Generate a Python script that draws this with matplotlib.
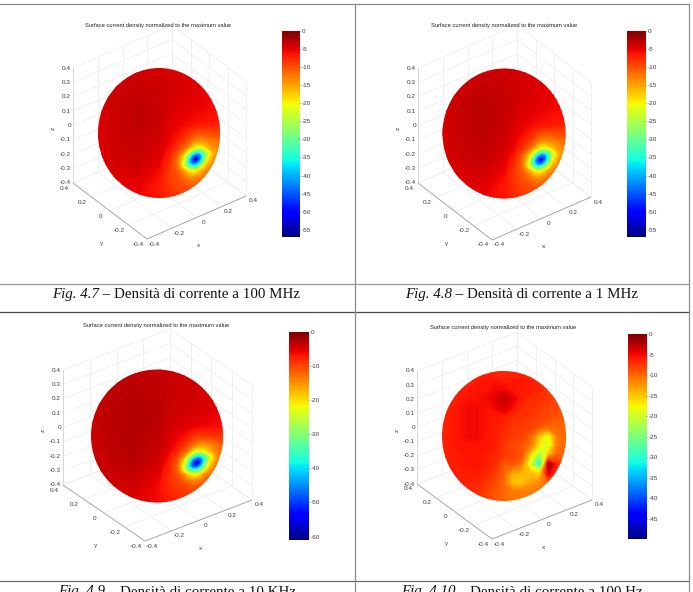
"""Four surface-current sphere plots in a captioned table (pixel-placed layout)."""
import numpy as np
import matplotlib
matplotlib.use("Agg")
import matplotlib.pyplot as plt
from matplotlib.cm import ScalarMappable
from matplotlib.colors import Normalize
from matplotlib.patches import Ellipse

W, H = 693, 592
plt.rcParams["axes.unicode_minus"] = False
plt.rcParams["font.family"] = ["Liberation Sans", "DejaVu Sans"]

TITLE = "Surface current density normalized to the maximum value"
Z_TICKS = [-0.4, -0.3, -0.2, -0.1, 0, 0.1, 0.2, 0.3, 0.4]
XY_TICKS = [-0.4, -0.2, 0, 0.2, 0.4]

CAPTIONS = [("Fig. 4.7", " – Densità di corrente a 100 MHz"),
            ("Fig. 4.8", " – Densità di corrente a 1 MHz"),
            ("Fig. 4.9", " – Densità di corrente a 10 KHz"),
            ("Fig. 4.10", " – Densità di corrente a 100 Hz")]

CBAR_MIN = [-57, -57, -61, -49.9]
CBAR_TICKS = [[0, -5, -10, -15, -20, -25, -30, -35, -40, -45, -50, -55],
              [0, -5, -10, -15, -20, -25, -30, -35, -40, -45, -50, -55],
              [0, -10, -20, -30, -40, -50, -60],
              [0, -5, -10, -15, -20, -25, -30, -35, -40, -45]]

# sample positions on the projected disc (-1..1), closer together round the cold spot
U_SPOT = [-1.05, -0.7, -0.35, 0, 0.17, 0.30, 0.40, 0.47, 0.535, 0.6, 0.665, 0.73, 0.80, 0.90, 1.05]
V_SPOT = [-1.05, -0.7, -0.4, -0.15, 0, 0.12, 0.22, 0.28, 0.34, 0.4, 0.46, 0.52, 0.58, 0.68, 0.8, 1.05]
U_EVEN = [-1.05, -0.857, -0.714, -0.571, -0.429, -0.286, -0.143, 0, 0.143, 0.286, 0.429, 0.571, 0.714, 0.857, 1.05]
V_EVEN = [-1.05, -0.857, -0.714, -0.571, -0.429, -0.286, -0.143, 0, 0.143, 0.286, 0.429, 0.571, 0.714, 0.857, 1.05]

# dB values (rows top to bottom)
FIELD_100MHZ = [
    [-5, -4.5, -4.2, -4.2, -4.5, -4.5, -4.8, -4.8, -4.8, -5, -5, -5, -5.5, -5.5, -6],
    [-4.8, -4, -3.6, -3.8, -4.2, -4.5, -4.6, -4.7, -4.8, -4.9, -5, -5, -5.2, -5.4, -5.7],
    [-4.8, -3.7, -3.2, -3.6, -4.3, -4.8, -4.9, -5, -5.1, -5.2, -5.3, -5.4, -5.6, -5.8, -6.2],
    [-4.8, -3.7, -3.2, -3.8, -4.8, -5.3, -5.6, -5.8, -6, -6.2, -6.3, -6.4, -6.6, -6.8, -7.5],
    [-4.8, -3.8, -3.3, -4, -5.2, -6, -7, -8, -9, -10, -10, -10, -10, -9.5, -9.5],
    [-4.9, -3.9, -3.4, -4.2, -5.5, -7, -9, -10.5, -12, -14, -14, -14, -13.5, -12.5, -11.5],
    [-4.9, -3.9, -3.5, -4.4, -6, -8.5, -11, -14, -18, -21, -21, -20, -17, -14, -12],
    [-5, -4, -3.5, -4.6, -6.5, -10, -14, -20, -27, -32, -33, -29, -22, -15, -12],
    [-5, -4, -3.6, -4.8, -7, -11, -18, -27, -38, -46, -44, -34, -24, -15.5, -12],
    [-5, -4.1, -3.7, -5, -7.5, -12, -20, -32, -46, -55, -46, -32, -20, -14, -11],
    [-5, -4.2, -3.9, -5.2, -8, -12.5, -22, -34, -44, -46, -38, -27, -18, -13, -10.5],
    [-5.2, -4.4, -4.1, -5.4, -8.5, -12, -21, -29, -33, -32, -27, -20, -15, -12, -10],
    [-5.4, -4.6, -4.3, -5.7, -8.8, -11, -15, -19, -21, -21, -18, -15, -13, -11, -9.5],
    [-5.6, -4.8, -4.6, -6.2, -8.8, -10, -12, -13.5, -14, -14, -13, -12, -11, -10, -9],
    [-5.8, -5.2, -5, -6.8, -8.5, -9.5, -10, -10.5, -10.5, -10.5, -10, -10, -9.5, -9, -8.5],
    [-6, -5.5, -5.5, -6.5, -7.5, -8, -8, -8, -8, -8, -8, -8, -8, -8, -8],
]
FIELD_1MHZ = [
    [-4.8, -4.3, -4, -4, -4.3, -4.4, -4.6, -4.8, -4.8, -5, -5, -5, -5.5, -5.5, -6],
    [-4.6, -3.8, -3.4, -3.6, -4, -4.3, -4.5, -4.6, -4.7, -4.8, -5, -5, -5.2, -5.4, -5.7],
    [-4.6, -3.5, -3, -3.4, -4.1, -4.6, -4.8, -4.9, -5, -5.2, -5.3, -5.4, -5.6, -5.8, -6.2],
    [-4.6, -3.5, -3, -3.6, -4.6, -5.1, -5.4, -5.7, -6, -6.2, -6.3, -6.4, -6.6, -6.8, -7.5],
    [-4.6, -3.6, -3.1, -3.8, -5, -5.8, -6.8, -7.8, -9, -10, -10, -10, -10, -9.5, -9.5],
    [-4.7, -3.7, -3.2, -4, -5.3, -6.8, -8.8, -10.5, -12, -14, -14, -14, -13.5, -12.5, -11.5],
    [-4.7, -3.7, -3.3, -4.2, -5.8, -8.3, -11, -14, -18, -21, -21, -20, -17, -14, -12],
    [-4.8, -3.8, -3.3, -4.4, -6.3, -10, -14, -20, -27, -32, -33, -29, -22, -15, -12],
    [-4.8, -3.8, -3.4, -4.6, -6.8, -11, -18, -27, -38, -46, -44, -34, -24, -15.5, -12],
    [-4.8, -3.9, -3.5, -4.8, -7.3, -12, -20, -32, -46, -55, -46, -32, -20, -14, -11],
    [-4.9, -4, -3.7, -5, -7.8, -12.5, -22, -34, -44, -46, -38, -27, -18, -13, -10.5],
    [-5, -4.2, -3.9, -5.2, -8.3, -12, -21, -29, -33, -32, -27, -20, -15, -12, -10],
    [-5.2, -4.4, -4.1, -5.5, -8.6, -11, -15, -19, -21, -21, -18, -15, -13, -11, -9.5],
    [-5.4, -4.6, -4.4, -6, -8.6, -10, -12, -13.5, -14, -14, -13, -12, -11, -10, -9],
    [-5.6, -5, -4.8, -6.6, -8.3, -9.5, -10, -10.5, -10.5, -10.5, -10, -10, -9.5, -9, -8.5],
    [-6, -5.3, -5.3, -6.3, -7.5, -8, -8, -8, -8, -8, -8, -8, -8, -8, -8],
]
FIELD_10KHZ = [
    [-4.5, -4, -3.8, -3.8, -4, -4.2, -4.4, -4.4, -4.5, -4.6, -4.6, -4.6, -5, -5, -5.5],
    [-4.3, -3.5, -3.1, -3.3, -3.7, -4, -4.1, -4.2, -4.3, -4.4, -4.5, -4.5, -4.7, -4.9, -5.2],
    [-4.3, -3.2, -2.8, -3.1, -3.8, -4.3, -4.4, -4.5, -4.6, -4.7, -4.8, -4.9, -5.1, -5.3, -5.7],
    [-4.3, -3.2, -2.8, -3.3, -4.3, -4.8, -5.1, -5.3, -5.5, -5.7, -5.8, -5.9, -6.1, -6.3, -7],
    [-4.3, -3.3, -2.9, -3.5, -4.7, -5.5, -6.5, -7.5, -8.5, -9.5, -9.5, -9.5, -9.5, -9, -9],
    [-4.4, -3.4, -3, -3.7, -5, -6.5, -8.5, -10, -12, -14, -14.5, -14.5, -14, -12.5, -11],
    [-4.4, -3.4, -3, -3.9, -5.5, -8, -11, -14, -19, -22, -22, -21, -18, -14, -11.5],
    [-4.5, -3.5, -3, -4.1, -6, -9.5, -14, -21, -29, -34, -35, -31, -23, -15, -11.5],
    [-4.5, -3.5, -3.1, -4.3, -6.5, -10.5, -18, -29, -41, -50, -48, -37, -25, -16, -11.5],
    [-4.5, -3.6, -3.2, -4.5, -7, -11.5, -21, -34, -50, -60, -50, -34, -21, -14, -10.5],
    [-4.5, -3.7, -3.4, -4.7, -7.5, -12, -23, -37, -48, -50, -41, -29, -19, -13, -10],
    [-4.7, -3.9, -3.6, -4.9, -8, -11.5, -22, -31, -35, -34, -29, -21, -15.5, -12, -9.5],
    [-4.9, -4.1, -3.8, -5.2, -8.3, -10.5, -15, -20, -22, -22, -19, -15, -13, -10.5, -9],
    [-5.1, -4.3, -4.1, -5.7, -8.3, -9.5, -11.5, -13, -14, -14, -13, -11.5, -10.5, -9.5, -8.5],
    [-5.3, -4.7, -4.5, -6.3, -8, -9, -9.5, -10, -10, -10, -9.5, -9.5, -9, -8.5, -8],
    [-5.5, -5, -5, -6, -7, -7.5, -7.5, -7.5, -7.5, -7.5, -7.5, -7.5, -7.5, -7.5, -7.5],
]
FIELD_100HZ = [
    [-7, -7, -7, -7, -7, -7, -7, -7, -7, -7, -7, -7, -7, -7, -7],
    [-6.5, -6.5, -6.5, -6.5, -6, -5.5, -5.5, -6, -6, -5.5, -6, -6.5, -7, -7, -7],
    [-6.5, -6, -6, -6, -5.5, -5.5, -5, -5, -5.5, -6, -6, -6.5, -7.5, -7.5, -7.5],
    [-7, -6.5, -6, -5.5, -5.5, -5, -4.5, -3, -4.5, -6, -7, -7, -7.5, -8, -8],
    [-7, -6, -5.5, -5, -5, -5.5, -5, -4, -5.5, -7, -7, -7.5, -8, -8.5, -8.5],
    [-6.5, -6, -5.5, -5, -5, -5.5, -6, -6, -7, -7, -7.5, -8, -8.5, -9, -9],
    [-6.5, -6, -5.5, -5, -5, -5.5, -6, -6.5, -7.5, -7.5, -8, -9, -10, -10, -10],
    [-6.5, -6, -5.5, -5, -5, -5.5, -6, -7, -7.5, -8, -10, -15, -19, -11, -9.5],
    [-6.5, -6, -5.5, -5.5, -5.5, -5.5, -6, -7.5, -8.5, -9, -11, -17, -20, -11, -9.5],
    [-6.5, -6, -6, -5.5, -5.5, -6, -6.5, -7.5, -8, -9, -16, -24, -15, -10, -9.5],
    [-6.5, -6, -6, -5.5, -5.5, -6, -7, -9.5, -9, -11, -20, -33, -1.5, -7, -9.5],
    [-6.5, -6, -6, -6, -6, -6.5, -7.5, -10, -14, -14, -15, -16, -4, -8, -9.5],
    [-6.5, -6, -6, -6.5, -6.5, -7.5, -8.5, -10.5, -15, -15, -13, -12, -10, -9.5, -9.5],
    [-6.5, -6, -6, -6.5, -7, -8, -9, -10, -11, -11, -11, -10.5, -10, -9.5, -9],
    [-6.5, -6, -6, -6.5, -7, -8, -9, -10, -11, -11, -11, -10.5, -10, -9.5, -9],
]
FIELDS = [FIELD_100MHZ, FIELD_1MHZ, FIELD_10KHZ, FIELD_100HZ]
NODES = [(U_SPOT, V_SPOT), (U_SPOT, V_SPOT), (U_SPOT, V_SPOT), (U_EVEN, V_EVEN)]

# layout in reference pixels: projected box corners, sphere ellipse, colorbar
LAYOUT = [
    dict(front=(147, 239), right=(246, 196), left=(73, 183), top=68,
         sphere=(159, 133, 61, 65), cbar=(282, 31, 18, 206), title=(158, 25)),
    dict(front=(492, 240), right=(591, 197), left=(418, 183), top=68,
         sphere=(504, 133.5, 61.5, 65), cbar=(627, 31, 19, 206), title=(504, 25)),
    dict(front=(145, 541), right=(252, 500), left=(63, 485), top=370,
         sphere=(157, 436, 66, 66.5), cbar=(289, 332, 20, 208), title=(156, 326)),
    dict(front=(492, 539), right=(592, 500), left=(417, 484), top=371,
         sphere=(504, 436, 62, 65), cbar=(628, 334, 19, 205), title=(503, 327)),
]

H_LINES = [(4, "#8a8a8a"), (284, "#9a9a9a"), (312, "#4a4a4a"), (581, "#6a6a6a")]
V_LINES = [(355, "#8a8a8a"), (689, "#8a8a8a")]

GRID = "#eeeeee"
AXIS = "#a0a0a0"
INK = "#3c3c3c"
TICK_SIZE = 4.6


def draw_box(ax, lay):
    front, right, left = (np.array(lay[k], float) for k in ("front", "right", "left"))
    zh = np.array([0.0, lay["top"] - lay["left"][1]])

    def pt(x, y, z):
        return (front + (x + 0.4) / 0.8 * (right - front)
                + (y + 0.4) / 0.8 * (left - front) + (z + 0.4) / 0.8 * zh)

    def seg(a, b, **kw):
        p, q = pt(*a), pt(*b)
        ax.plot([p[0], q[0]], [p[1], q[1]], solid_capstyle="butt", **kw)

    line = dict(color=GRID, lw=0.6, zorder=1)
    for t in Z_TICKS:
        seg((-0.4, 0.4, t), (0.4, 0.4, t), **line)
        seg((0.4, 0.4, t), (0.4, -0.4, t), **line)
    for t in XY_TICKS:
        seg((t, 0.4, -0.4), (t, 0.4, 0.4), **line)
        seg((0.4, t, -0.4), (0.4, t, 0.4), **line)
        seg((t, -0.4, -0.4), (t, 0.4, -0.4), **line)
        seg((-0.4, t, -0.4), (0.4, t, -0.4), **line)

    edge = dict(color=AXIS, lw=0.6, zorder=2)
    seg((-0.4, -0.4, -0.4), (0.4, -0.4, -0.4), **edge)
    seg((-0.4, -0.4, -0.4), (-0.4, 0.4, -0.4), **edge)
    seg((-0.4, 0.4, -0.4), (-0.4, 0.4, 0.4), color="#cccccc", lw=0.5, zorder=2)

    txt = dict(fontsize=TICK_SIZE, color=INK, ha="center", va="center")
    for t in Z_TICKS:
        p = pt(-0.4, 0.4, t)
        ax.text(p[0] - 2, p[1], f"{t:g}", fontsize=TICK_SIZE, color=INK, ha="right", va="center")
    for t in XY_TICKS:
        p = pt(t, -0.4, -0.4)
        ax.text(p[0] + 7, p[1] + 5, f"{t:g}", **txt)
        p = pt(-0.4, t, -0.4)
        ax.text(p[0] - 9, p[1] + 5, f"{t:g}", **txt)
    p = pt(0, -0.4, -0.4)
    ax.text(p[0] + 2, p[1] + 28, "x", **txt)
    p = pt(-0.4, 0, -0.4)
    ax.text(p[0] - 8, p[1] + 32, "y", **txt)
    p = pt(-0.4, 0.4, 0)
    ax.text(p[0] - 20, p[1] + 3, "z", rotation=90, **txt)


def draw_sphere(ax, lay, field, nodes, vmin):
    cx, cy, rx, ry = lay["sphere"]
    xs = cx + rx * np.array(nodes[0])
    ys = cy + ry * np.array(nodes[1])
    cs = ax.contourf(xs, ys, np.array(field, float), levels=np.linspace(vmin, 0, 257),
                     cmap="jet", extend="both", zorder=3, antialiased=False)
    cs.set_clip_path(Ellipse((cx, cy), 2 * rx, 2 * ry, transform=ax.transData))


def draw_cbar(fig, lay, vmin, ticks):
    x, y, w, h = lay["cbar"]
    cax = fig.add_axes([x / W, 1 - (y + h) / H, w / W, h / H])
    sm = ScalarMappable(Normalize(vmin, 0), "jet")
    cb = fig.colorbar(sm, cax=cax, ticks=ticks, format="%d")
    cb.outline.set_visible(False)
    cb.ax.tick_params(labelsize=TICK_SIZE, length=1, width=0.4, direction="in", pad=1.2,
                      colors=INK)


def draw_caption(fig, ax, x_mid, y, caption):
    italic, plain = caption
    kw = dict(fontsize=10.8, family="Liberation Serif", color="#111111", va="baseline")
    a = ax.text(0, y, italic, style="italic", **kw)
    b = ax.text(0, y, plain, **kw)
    r = fig.canvas.get_renderer()
    wa = a.get_window_extent(r).width
    wb = b.get_window_extent(r).width
    a.set_x(x_mid - (wa + wb) / 2)
    b.set_x(x_mid - (wa + wb) / 2 + wa)


fig = plt.figure(figsize=(W / 100, H / 100), dpi=100)
ax = fig.add_axes([0, 0, 1, 1])

for lay, field, nodes, vmin, ticks in zip(LAYOUT, FIELDS, NODES, CBAR_MIN, CBAR_TICKS):
    draw_box(ax, lay)
    draw_sphere(ax, lay, field, nodes, vmin)
    draw_cbar(fig, lay, vmin, ticks)
    ax.text(*lay["title"], TITLE, fontsize=4.15, color="#222222", ha="center", va="center")

ax.set_xlim(0, W)
ax.set_ylim(H, 0)
ax.axis("off")

for y, c in H_LINES:
    ax.plot([0, 689], [y, y], color=c, lw=0.9, zorder=5)
for x, c in V_LINES:
    ax.plot([x, x], [4, H], color=c, lw=0.9, zorder=5)

for x_mid, y, cap in zip([176, 522, 177, 522], [298, 298, 595.5, 595.5], CAPTIONS):
    draw_caption(fig, ax, x_mid, y, cap)

fig.savefig("out.png", dpi=100)
